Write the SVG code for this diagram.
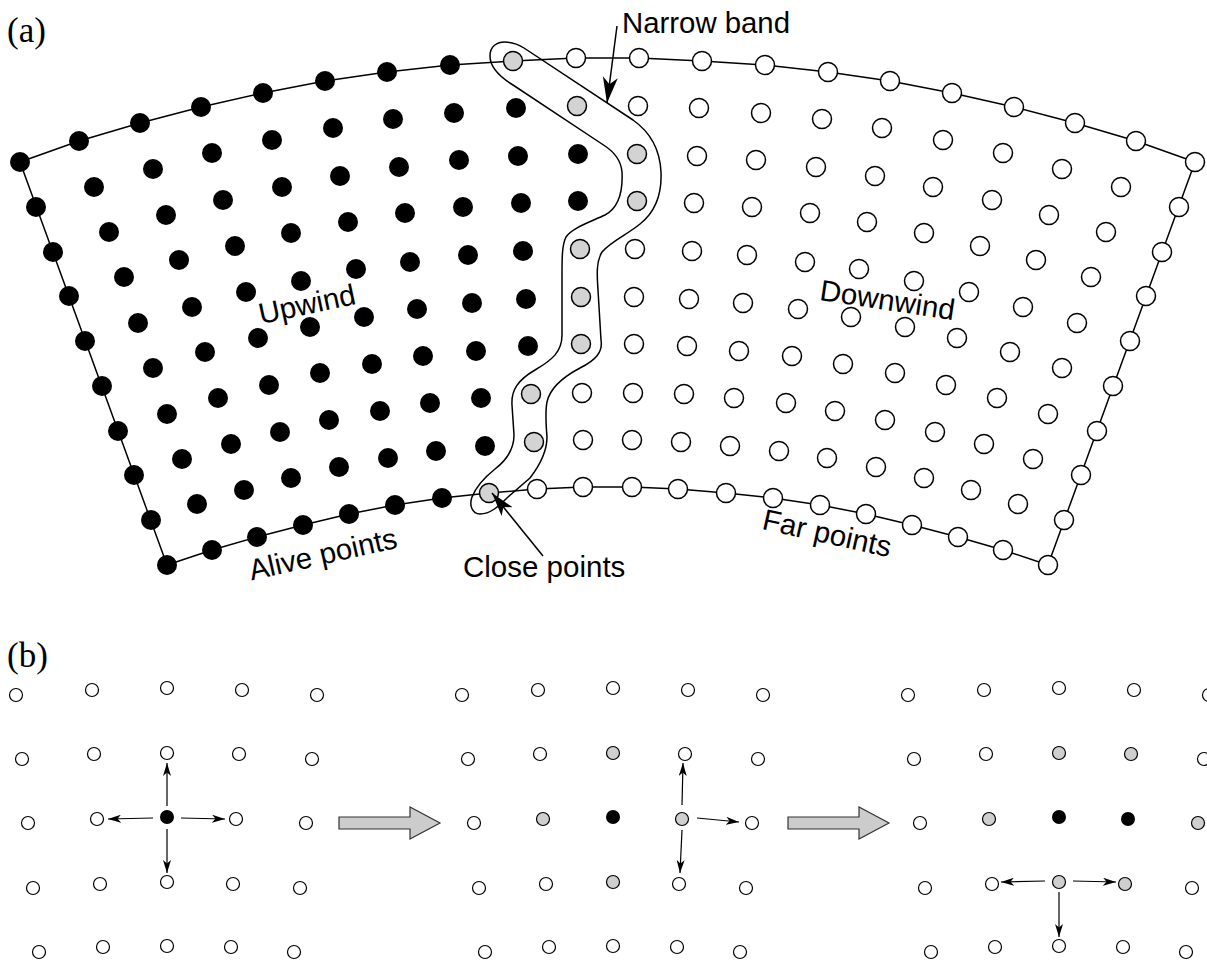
<svg xmlns="http://www.w3.org/2000/svg" width="1207" height="962" viewBox="0 0 1207 962">
<style>
.k{fill:#000}
.w{fill:#fff;stroke:#000;stroke-width:1.5}
.g{fill:#d3d3d3;stroke:#000;stroke-width:1.5}
.sk{fill:#000}
.sw{fill:#fff;stroke:#000;stroke-width:1.2}
.sg{fill:#cfcfcf;stroke:#000;stroke-width:1.2}
.ln{fill:none;stroke:#000;stroke-width:1.5;stroke-linejoin:round}
.lbl{font-family:"Liberation Sans",Arial,sans-serif;font-size:29.5px;fill:#000}
.pl{font-family:"Liberation Serif","Times New Roman",serif;font-size:35px;fill:#000}
.ar{fill:none;stroke:#000;stroke-width:1.2}
.big{fill:#cccccc;stroke:#333;stroke-width:1.2}
</style>
<defs>
<marker id="mBig" markerUnits="userSpaceOnUse" markerWidth="26" markerHeight="15" refX="26" refY="7.5" orient="auto"><path d="M0,0 L26,7.5 L0,15 L7,7.5 z" fill="#000"/></marker>
<marker id="mMid" markerUnits="userSpaceOnUse" markerWidth="24" markerHeight="14" refX="24" refY="7" orient="auto"><path d="M0,0 L24,7 L0,14 L6,7 z" fill="#000"/></marker>
<marker id="mS" markerUnits="userSpaceOnUse" markerWidth="13" markerHeight="8" refX="13" refY="4" orient="auto"><path d="M0,0 L13,4 L0,8 L3.5,4 z" fill="#000"/></marker>
</defs>

<text class="pl" x="7" y="42">(a)</text>
<text class="pl" x="7" y="667">(b)</text>

<g id="boundary">
<polygon class="ln" points="20,162 79,141 140,123 201,107 263,93 325,81 387,72 450,65 513,61 576,58 639,58 702,61 765,65 828,72 890,81 952,93 1014,107 1075,123 1136,141 1195,162 1048,565 1003,550 958,537 912,525 866,514 820,505 773,498 726,493 678,489 632,487 583,487 537,489 489,493 442,498 395,505 349,514 303,525 257,537 212,550 167,565"/>
</g>

<g id="narrow-band">
<path class="ln" d="M490,56 C490,46 497,42 505,42 C512,42 518,44 524,48 L633,120 C650,132 660,150 661,172 C662,195 655,212 640,224 C628,234 610,242 602,252 C596,262 597,275 598,290 L601,340 C603,352 596,360 580,368 C563,377 550,388 547,402 C545,412 546,425 547,437 C547,452 540,465 530,478 L508,497 C498,507 490,514 480,514 C472,514 469,505 472,497 C476,487 485,477 495,469 C508,459 514,448 514,435 L512,405 C511,390 518,380 535,370 C552,360 562,352 562,335 L562,275 C562,258 562,245 566,237 C572,228 590,222 605,215 C618,208 623,192 622,172 C621,160 614,152 605,146 L513,85 C500,77 490,68 490,56 Z"/>
</g>

<g id="alive-points">
<circle class="k" cx="20" cy="162" r="10"/><circle class="k" cx="79" cy="141" r="10"/><circle class="k" cx="140" cy="123" r="10"/><circle class="k" cx="201" cy="107" r="10"/><circle class="k" cx="263" cy="93" r="10"/><circle class="k" cx="325" cy="81" r="10"/><circle class="k" cx="387" cy="72" r="10"/><circle class="k" cx="450" cy="65" r="10"/>
<circle class="k" cx="36" cy="207" r="10"/><circle class="k" cx="53" cy="252" r="10"/><circle class="k" cx="69" cy="296" r="10"/><circle class="k" cx="85" cy="341" r="10"/><circle class="k" cx="102" cy="386" r="10"/><circle class="k" cx="118" cy="431" r="10"/><circle class="k" cx="134" cy="475" r="10"/><circle class="k" cx="151" cy="520" r="10"/>
<circle class="k" cx="167" cy="565" r="10"/><circle class="k" cx="212" cy="550" r="10"/><circle class="k" cx="257" cy="537" r="10"/><circle class="k" cx="303" cy="525" r="10"/><circle class="k" cx="349" cy="514" r="10"/><circle class="k" cx="395" cy="505" r="10"/><circle class="k" cx="442" cy="498" r="10"/>
<circle class="k" cx="94" cy="187" r="10"/><circle class="k" cx="153" cy="169" r="10"/><circle class="k" cx="212" cy="153" r="10"/><circle class="k" cx="272" cy="140" r="10"/><circle class="k" cx="333" cy="128" r="10"/><circle class="k" cx="393" cy="119" r="10"/><circle class="k" cx="454" cy="113" r="10"/><circle class="k" cx="516" cy="108" r="10"/>
<circle class="k" cx="109" cy="232" r="10"/><circle class="k" cx="166" cy="215" r="10"/><circle class="k" cx="223" cy="200" r="10"/><circle class="k" cx="282" cy="187" r="10"/><circle class="k" cx="340" cy="176" r="10"/><circle class="k" cx="399" cy="167" r="10"/><circle class="k" cx="459" cy="160" r="10"/><circle class="k" cx="518" cy="156" r="10"/><circle class="k" cx="578" cy="154" r="10"/>
<circle class="k" cx="124" cy="277" r="10"/><circle class="k" cx="179" cy="260" r="10"/><circle class="k" cx="235" cy="246" r="10"/><circle class="k" cx="291" cy="233" r="10"/><circle class="k" cx="348" cy="222" r="10"/><circle class="k" cx="405" cy="213" r="10"/><circle class="k" cx="463" cy="207" r="10"/><circle class="k" cx="521" cy="203" r="10"/><circle class="k" cx="578" cy="201" r="10"/>
<circle class="k" cx="138" cy="323" r="10"/><circle class="k" cx="192" cy="307" r="10"/><circle class="k" cx="246" cy="292" r="10"/><circle class="k" cx="301" cy="281" r="10"/><circle class="k" cx="356" cy="269" r="10"/><circle class="k" cx="410" cy="262" r="10"/><circle class="k" cx="468" cy="255" r="10"/><circle class="k" cx="523" cy="251" r="10"/>
<circle class="k" cx="153" cy="368" r="10"/><circle class="k" cx="205" cy="352" r="10"/><circle class="k" cx="258" cy="338" r="10"/><circle class="k" cx="310" cy="327" r="10"/><circle class="k" cx="364" cy="317" r="10"/><circle class="k" cx="417" cy="309" r="10"/><circle class="k" cx="472" cy="303" r="10"/><circle class="k" cx="526" cy="299" r="10"/>
<circle class="k" cx="167" cy="414" r="10"/><circle class="k" cx="218" cy="398" r="10"/><circle class="k" cx="269" cy="385" r="10"/><circle class="k" cx="320" cy="373" r="10"/><circle class="k" cx="372" cy="364" r="10"/><circle class="k" cx="423" cy="356" r="10"/><circle class="k" cx="476" cy="351" r="10"/><circle class="k" cx="528" cy="346" r="10"/>
<circle class="k" cx="182" cy="459" r="10"/><circle class="k" cx="231" cy="444" r="10"/><circle class="k" cx="280" cy="432" r="10"/><circle class="k" cx="329" cy="420" r="10"/><circle class="k" cx="380" cy="411" r="10"/><circle class="k" cx="430" cy="403" r="10"/><circle class="k" cx="481" cy="398" r="10"/>
<circle class="k" cx="197" cy="504" r="10"/><circle class="k" cx="244" cy="490" r="10"/><circle class="k" cx="291" cy="478" r="10"/><circle class="k" cx="339" cy="467" r="10"/><circle class="k" cx="388" cy="458" r="10"/><circle class="k" cx="436" cy="451" r="10"/><circle class="k" cx="485" cy="446" r="10"/>
</g>

<g id="close-points">
<circle class="g" cx="513" cy="61" r="9.5"/><circle class="g" cx="577" cy="106" r="9.5"/><circle class="g" cx="637" cy="154" r="9.5"/><circle class="g" cx="637" cy="201" r="9.5"/><circle class="g" cx="580" cy="249" r="9.5"/><circle class="g" cx="581" cy="297" r="9.5"/><circle class="g" cx="581" cy="344" r="9.5"/><circle class="g" cx="531" cy="394" r="9.5"/><circle class="g" cx="534" cy="442" r="9.5"/><circle class="g" cx="489" cy="493" r="9.5"/>
</g>

<g id="far-points">
<circle class="w" cx="576" cy="58" r="9.5"/><circle class="w" cx="639" cy="58" r="9.5"/><circle class="w" cx="702" cy="61" r="9.5"/><circle class="w" cx="765" cy="65" r="9.5"/><circle class="w" cx="828" cy="72" r="9.5"/><circle class="w" cx="890" cy="81" r="9.5"/><circle class="w" cx="952" cy="93" r="9.5"/><circle class="w" cx="1014" cy="107" r="9.5"/><circle class="w" cx="1075" cy="123" r="9.5"/><circle class="w" cx="1136" cy="141" r="9.5"/><circle class="w" cx="1195" cy="162" r="9.5"/>
<circle class="w" cx="1179" cy="207" r="9.5"/><circle class="w" cx="1162" cy="252" r="9.5"/><circle class="w" cx="1146" cy="296" r="9.5"/><circle class="w" cx="1130" cy="341" r="9.5"/><circle class="w" cx="1113" cy="386" r="9.5"/><circle class="w" cx="1097" cy="431" r="9.5"/><circle class="w" cx="1081" cy="475" r="9.5"/><circle class="w" cx="1064" cy="520" r="9.5"/>
<circle class="w" cx="537" cy="489" r="9.5"/><circle class="w" cx="583" cy="487" r="9.5"/><circle class="w" cx="632" cy="487" r="9.5"/><circle class="w" cx="678" cy="489" r="9.5"/><circle class="w" cx="726" cy="493" r="9.5"/><circle class="w" cx="773" cy="498" r="9.5"/><circle class="w" cx="820" cy="505" r="9.5"/><circle class="w" cx="866" cy="514" r="9.5"/><circle class="w" cx="912" cy="525" r="9.5"/><circle class="w" cx="958" cy="537" r="9.5"/><circle class="w" cx="1003" cy="550" r="9.5"/><circle class="w" cx="1048" cy="565" r="9.5"/>
<circle class="w" cx="638" cy="106" r="9.5"/><circle class="w" cx="699" cy="108" r="9.5"/><circle class="w" cx="761" cy="113" r="9.5"/><circle class="w" cx="822" cy="119" r="9.5"/><circle class="w" cx="882" cy="128" r="9.5"/><circle class="w" cx="943" cy="140" r="9.5"/><circle class="w" cx="1003" cy="153" r="9.5"/><circle class="w" cx="1062" cy="169" r="9.5"/><circle class="w" cx="1121" cy="187" r="9.5"/>
<circle class="w" cx="697" cy="156" r="9.5"/><circle class="w" cx="756" cy="160" r="9.5"/><circle class="w" cx="816" cy="167" r="9.5"/><circle class="w" cx="875" cy="176" r="9.5"/><circle class="w" cx="933" cy="187" r="9.5"/><circle class="w" cx="992" cy="200" r="9.5"/><circle class="w" cx="1049" cy="215" r="9.5"/><circle class="w" cx="1106" cy="232" r="9.5"/>
<circle class="w" cx="694" cy="203" r="9.5"/><circle class="w" cx="752" cy="207" r="9.5"/><circle class="w" cx="810" cy="213" r="9.5"/><circle class="w" cx="867" cy="222" r="9.5"/><circle class="w" cx="924" cy="233" r="9.5"/><circle class="w" cx="980" cy="246" r="9.5"/><circle class="w" cx="1036" cy="260" r="9.5"/><circle class="w" cx="1091" cy="277" r="9.5"/>
<circle class="w" cx="635" cy="249" r="9.5"/><circle class="w" cx="692" cy="251" r="9.5"/><circle class="w" cx="747" cy="255" r="9.5"/><circle class="w" cx="805" cy="262" r="9.5"/><circle class="w" cx="859" cy="269" r="9.5"/><circle class="w" cx="914" cy="281" r="9.5"/><circle class="w" cx="969" cy="292" r="9.5"/><circle class="w" cx="1023" cy="307" r="9.5"/><circle class="w" cx="1077" cy="323" r="9.5"/>
<circle class="w" cx="634" cy="297" r="9.5"/><circle class="w" cx="689" cy="299" r="9.5"/><circle class="w" cx="743" cy="303" r="9.5"/><circle class="w" cx="798" cy="309" r="9.5"/><circle class="w" cx="851" cy="317" r="9.5"/><circle class="w" cx="905" cy="327" r="9.5"/><circle class="w" cx="957" cy="338" r="9.5"/><circle class="w" cx="1010" cy="352" r="9.5"/><circle class="w" cx="1062" cy="368" r="9.5"/>
<circle class="w" cx="634" cy="344" r="9.5"/><circle class="w" cx="687" cy="346" r="9.5"/><circle class="w" cx="739" cy="351" r="9.5"/><circle class="w" cx="792" cy="356" r="9.5"/><circle class="w" cx="843" cy="364" r="9.5"/><circle class="w" cx="895" cy="373" r="9.5"/><circle class="w" cx="946" cy="385" r="9.5"/><circle class="w" cx="997" cy="398" r="9.5"/><circle class="w" cx="1048" cy="414" r="9.5"/>
<circle class="w" cx="582" cy="393" r="9.5"/><circle class="w" cx="633" cy="393" r="9.5"/><circle class="w" cx="684" cy="394" r="9.5"/><circle class="w" cx="734" cy="398" r="9.5"/><circle class="w" cx="786" cy="403" r="9.5"/><circle class="w" cx="835" cy="411" r="9.5"/><circle class="w" cx="885" cy="420" r="9.5"/><circle class="w" cx="935" cy="432" r="9.5"/><circle class="w" cx="984" cy="444" r="9.5"/><circle class="w" cx="1033" cy="459" r="9.5"/>
<circle class="w" cx="583" cy="440" r="9.5"/><circle class="w" cx="632" cy="440" r="9.5"/><circle class="w" cx="681" cy="442" r="9.5"/><circle class="w" cx="730" cy="446" r="9.5"/><circle class="w" cx="779" cy="451" r="9.5"/><circle class="w" cx="827" cy="458" r="9.5"/><circle class="w" cx="876" cy="467" r="9.5"/><circle class="w" cx="924" cy="478" r="9.5"/><circle class="w" cx="971" cy="490" r="9.5"/><circle class="w" cx="1018" cy="504" r="9.5"/>
</g>

<g id="labels-a">
<text class="lbl" x="622" y="33" textLength="168" lengthAdjust="spacingAndGlyphs">Narrow band</text>
<text class="lbl" x="463" y="577">Close points</text>
<text class="lbl" text-anchor="middle" transform="translate(309,314) rotate(-12)">Upwind</text>
<text class="lbl" text-anchor="middle" transform="translate(886,310) rotate(8.5)">Downwind</text>
<text class="lbl" text-anchor="middle" transform="translate(325,564) rotate(-12.7)">Alive points</text>
<text class="lbl" text-anchor="middle" transform="translate(825,543) rotate(12.6)">Far points</text>
</g>

<g id="grid-1">
<circle class="sw" cx="16" cy="695" r="6.5"/><circle class="sw" cx="92" cy="690" r="6.5"/><circle class="sw" cx="167" cy="688" r="6.5"/><circle class="sw" cx="242" cy="690" r="6.5"/><circle class="sw" cx="317" cy="695" r="6.5"/>
<circle class="sw" cx="22" cy="759" r="6.5"/><circle class="sw" cx="94" cy="754" r="6.5"/><circle class="sw" cx="167" cy="753" r="6.5"/><circle class="sw" cx="239" cy="754" r="6.5"/><circle class="sw" cx="312" cy="759" r="6.5"/>
<circle class="sw" cx="28" cy="823" r="6.5"/><circle class="sw" cx="97" cy="819" r="6.5"/><circle class="sk" cx="167" cy="817" r="7"/><circle class="sw" cx="236" cy="819" r="6.5"/><circle class="sw" cx="306" cy="823" r="6.5"/>
<circle class="sw" cx="33" cy="888" r="6.5"/><circle class="sw" cx="100" cy="884" r="6.5"/><circle class="sw" cx="167" cy="882" r="6.5"/><circle class="sw" cx="233" cy="884" r="6.5"/><circle class="sw" cx="300" cy="888" r="6.5"/>
<circle class="sw" cx="39" cy="952" r="6.5"/><circle class="sw" cx="103" cy="947" r="6.5"/><circle class="sw" cx="167" cy="946" r="6.5"/><circle class="sw" cx="231" cy="947" r="6.5"/><circle class="sw" cx="294" cy="952" r="6.5"/>
</g>

<g id="grid-2">
<circle class="sw" cx="462" cy="695" r="6.5"/><circle class="sw" cx="538" cy="690" r="6.5"/><circle class="sw" cx="613" cy="688" r="6.5"/><circle class="sw" cx="688" cy="690" r="6.5"/><circle class="sw" cx="763" cy="695" r="6.5"/>
<circle class="sw" cx="468" cy="759" r="6.5"/><circle class="sw" cx="540" cy="754" r="6.5"/><circle class="sg" cx="613" cy="753" r="6.5"/><circle class="sw" cx="685" cy="754" r="6.5"/><circle class="sw" cx="758" cy="759" r="6.5"/>
<circle class="sw" cx="474" cy="823" r="6.5"/><circle class="sg" cx="543" cy="819" r="6.5"/><circle class="sk" cx="613" cy="817" r="7"/><circle class="sg" cx="682" cy="819" r="6.5"/><circle class="sw" cx="752" cy="823" r="6.5"/>
<circle class="sw" cx="479" cy="888" r="6.5"/><circle class="sw" cx="546" cy="884" r="6.5"/><circle class="sg" cx="613" cy="882" r="6.5"/><circle class="sw" cx="679" cy="884" r="6.5"/><circle class="sw" cx="746" cy="888" r="6.5"/>
<circle class="sw" cx="485" cy="952" r="6.5"/><circle class="sw" cx="549" cy="947" r="6.5"/><circle class="sw" cx="613" cy="946" r="6.5"/><circle class="sw" cx="677" cy="947" r="6.5"/><circle class="sw" cx="740" cy="952" r="6.5"/>
</g>

<g id="grid-3">
<circle class="sw" cx="908" cy="695" r="6.5"/><circle class="sw" cx="984" cy="690" r="6.5"/><circle class="sw" cx="1059" cy="688" r="6.5"/><circle class="sw" cx="1134" cy="690" r="6.5"/><circle class="sw" cx="1209" cy="695" r="6.5"/>
<circle class="sw" cx="914" cy="759" r="6.5"/><circle class="sw" cx="986" cy="754" r="6.5"/><circle class="sg" cx="1059" cy="753" r="6.5"/><circle class="sg" cx="1131" cy="754" r="6.5"/><circle class="sw" cx="1204" cy="759" r="6.5"/>
<circle class="sw" cx="920" cy="823" r="6.5"/><circle class="sg" cx="989" cy="819" r="6.5"/><circle class="sk" cx="1059" cy="817" r="7"/><circle class="sk" cx="1128" cy="819" r="7"/><circle class="sg" cx="1198" cy="823" r="6.5"/>
<circle class="sw" cx="925" cy="888" r="6.5"/><circle class="sw" cx="992" cy="884" r="6.5"/><circle class="sg" cx="1059" cy="882" r="6.5"/><circle class="sg" cx="1125" cy="884" r="6.5"/><circle class="sw" cx="1192" cy="888" r="6.5"/>
<circle class="sw" cx="931" cy="952" r="6.5"/><circle class="sw" cx="995" cy="947" r="6.5"/><circle class="sw" cx="1059" cy="946" r="6.5"/><circle class="sw" cx="1123" cy="947" r="6.5"/><circle class="sw" cx="1186" cy="952" r="6.5"/>
</g>

<g id="connectors">
<line class="ln" x1="617" y1="26" x2="607" y2="103" marker-end="url(#mBig)"/>
<line class="ln" x1="543" y1="556" x2="492" y2="493" marker-end="url(#mMid)"/>
<line class="ar" x1="167" y1="806" x2="167" y2="763" marker-end="url(#mS)"/>
<line class="ar" x1="167" y1="829" x2="167" y2="873" marker-end="url(#mS)"/>
<line class="ar" x1="153" y1="818" x2="108" y2="819" marker-end="url(#mS)"/>
<line class="ar" x1="181" y1="818" x2="225" y2="819" marker-end="url(#mS)"/>
<line class="ar" x1="682" y1="805" x2="683" y2="763" marker-end="url(#mS)"/>
<line class="ar" x1="697" y1="818" x2="739" y2="822" marker-end="url(#mS)"/>
<line class="ar" x1="682" y1="830" x2="680" y2="873" marker-end="url(#mS)"/>
<line class="ar" x1="1045" y1="881" x2="1001" y2="882" marker-end="url(#mS)"/>
<line class="ar" x1="1073" y1="881" x2="1116" y2="882" marker-end="url(#mS)"/>
<line class="ar" x1="1059" y1="892" x2="1059" y2="937" marker-end="url(#mS)"/>
<polygon class="big" points="339,817 410,817 410,807 440,823 410,839 410,829 339,829"/>
<polygon class="big" points="788,817 859,817 859,807 889,823 859,839 859,829 788,829"/>
</g>
</svg>
